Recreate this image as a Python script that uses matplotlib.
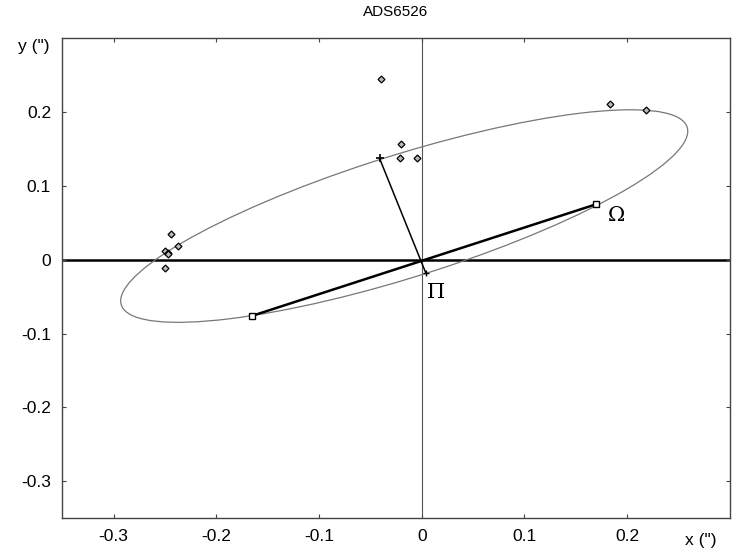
import numpy as np
import matplotlib
matplotlib.use('Agg')
import matplotlib.pyplot as plt
from matplotlib.patches import Ellipse

plt.rcParams['font.family'] = ['Liberation Sans', 'DejaVu Sans']

# observations (arcsec)
obs_x = [-0.250, -0.247, -0.247, -0.244, -0.237, -0.250, -0.040, -0.020, -0.021, -0.005, 0.183, 0.218]
obs_y = [0.012, 0.009, 0.007, 0.035, 0.018, -0.011, 0.244, 0.156, 0.137, 0.138, 0.210, 0.203]

# apparent orbit ellipse
orb_center = (-0.017, 0.059)
orb_width = 0.602
orb_height = 0.159
orb_angle = 24.4

# line of nodes, apastron, periastron
node_x = [-0.165, 0.170]
node_y = [-0.076, 0.075]
apo = (-0.041, 0.137)
peri = (0.004, -0.018)

xticks = [-0.3, -0.2, -0.1, 0, 0.1, 0.2]
yticks = [-0.3, -0.2, -0.1, 0, 0.1, 0.2]

fig = plt.figure(figsize=(7.32, 5.59), dpi=100)
ax = fig.add_axes([0.085, 0.073, 0.912, 0.859])

ax.axhline(0, color='black', lw=1.8, zorder=1)
ax.axvline(0, color='#555555', lw=0.8, zorder=1)

ell = Ellipse(orb_center, orb_width, orb_height, angle=orb_angle,
              fill=False, edgecolor='#777777', lw=0.9, zorder=2)
ax.add_patch(ell)

ax.plot(node_x, node_y, color='black', lw=1.8, zorder=3)
ax.plot(node_x, node_y, 's', ms=5, mfc='white', mec='black', mew=1.0, zorder=4)
ax.plot([apo[0], peri[0]], [apo[1], peri[1]], color='black', lw=1.1, zorder=3)
ax.plot(apo[0], apo[1], '+', color='black', ms=6, mew=1.2, zorder=4)
ax.plot(peri[0], peri[1], '+', color='black', ms=5, mew=1.0, zorder=4)

ax.plot(obs_x, obs_y, 'D', ms=3.5, mfc='#bbbbbb', mec='black', mew=0.9, ls='none', zorder=5)

ax.text(0.19, 0.060, '\u03a9', fontsize=15, family='DejaVu Serif', ha='center', va='center')
ax.text(0.0135, -0.045, '\u03a0', fontsize=15, family='DejaVu Serif', ha='center', va='center')

ax.set_xlim(-0.35, 0.3)
ax.set_ylim(-0.35, 0.3)
ax.set_xticks(xticks)
ax.set_yticks(yticks)
ax.set_xticklabels(['-0.3', '-0.2', '-0.1', '0', '0.1', '0.2'])
ax.set_yticklabels(['-0.3', '-0.2', '-0.1', '0', '0.1', '0.2'])
ax.tick_params(direction='in', length=3, top=True, right=True, labelsize=12.5,
               color='#444444', pad=8)
for s in ax.spines.values():
    s.set_color('#444444')
    s.set_linewidth(1.0)

ax.text(0.272, -0.38, 'x (")', fontsize=12.5, ha='center', va='center')
ax.text(-0.362, 0.288, 'y (")', fontsize=12.5, ha='right', va='center')
ax.set_title('ADS6526', fontsize=11, pad=16)

fig.savefig('out.png', dpi=100)
